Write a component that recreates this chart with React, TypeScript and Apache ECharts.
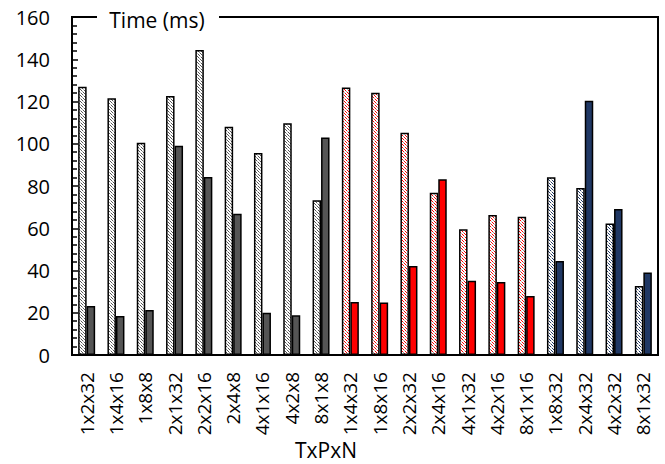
import React, { useEffect, useRef } from "react";
import * as echarts from "echarts";

const categories = [
  "1x2x32", "1x4x16", "1x8x8", "2x1x32", "2x2x16", "2x4x8", "4x1x16", "4x2x8", "8x1x8",
  "1x4x32", "1x8x16", "2x2x32", "2x4x16", "4x1x32", "4x2x16", "8x1x16",
  "1x8x32", "2x4x32", "4x2x32", "8x1x32",
];
const hatchedValues = [127, 121.5, 100.5, 122.6, 144.4, 108.1, 95.6, 109.7, 73.2, 126.6, 124.2, 105.2, 76.8, 59.5, 66.3, 65.5, 84.1, 79, 62.3, 32.7];
const solidValues = [23.2, 18.5, 21.3, 99.1, 84.3, 66.9, 20, 18.8, 102.9, 25.1, 24.8, 42.1, 83.2, 35.2, 34.6, 27.9, 44.5, 120.4, 69.1, 39];
const groupOf = [0, 0, 0, 0, 0, 0, 0, 0, 0, 1, 1, 1, 1, 1, 1, 1, 2, 2, 2, 2];
const groupColors = ["#555555", "#ff0000", "#203864"];
const hatchColors = ["#555555", "#ff0000", "#203864"];
const yTicks = { min: 0, max: 160, interval: 20 };
const xAxisTitle = "TxPxN";
const yAxisTitle = "Time (ms)";

function makePattern(color: string): HTMLCanvasElement {
  const c = document.createElement("canvas");
  c.width = 6;
  c.height = 6;
  const ctx = c.getContext("2d")!;
  ctx.fillStyle = "#ffffff";
  ctx.fillRect(0, 0, 6, 6);
  for (let i = 0; i < 6; i++) {
    ctx.fillStyle = i % 3 < 2 ? color : "#bbbbbb";
    ctx.fillRect(i, i, 1, 1);
    ctx.fillStyle = i % 3 === 1 ? "#999999" : color;
    ctx.fillRect(i, (i + 3) % 6, 1, 1);
  }
  return c;
}

export default function App() {
  const ref = useRef<HTMLDivElement>(null);
  useEffect(() => {
    if (!ref.current) return;
    const chart = echarts.init(ref.current, null, { renderer: "svg" });
    const patterns = hatchColors.map((c) => ({ image: makePattern(c), repeat: "repeat" }));
    const font = "Open Sans";
    chart.setOption({
      animation: false,
      backgroundColor: "#ffffff",
      grid: {
        left: 72,
        right: 7,
        top: 17,
        bottom: 109,
        outerBoundsMode: "none",
        containLabel: false,
        show: true,
        borderColor: "#000000",
        borderWidth: 2,
        backgroundColor: "transparent",
      },
      xAxis: {
        type: "category",
        data: categories,
        axisLine: { show: true, lineStyle: { color: "#000", width: 2 } },
        axisTick: { show: false },
        axisLabel: {
          rotate: 90,
          interval: 0,
          margin: 17,
          fontFamily: font,
          fontSize: 19,
          color: "#000",
        },
      },
      yAxis: {
        type: "value",
        min: yTicks.min,
        max: yTicks.max,
        interval: yTicks.interval,
        axisLine: { show: true, lineStyle: { color: "#000", width: 2 } },
        axisTick: { show: true, inside: true, length: 6, lineStyle: { color: "#000", width: 1.5 } },
        minorTick: { show: true, splitNumber: 5, length: 5, lineStyle: { color: "#000", width: 1.5 } },
        splitLine: { show: false },
        axisLabel: { margin: 22, fontFamily: font, fontSize: 20, color: "#000" },
      },
      graphic: [
        {
          type: "rect",
          shape: { x: 97, y: 8, width: 122, height: 20 },
          style: { fill: "#ffffff" },
          z: 100,
        },
        {
          type: "text",
          x: 157,
          y: 20,
          style: {
            text: yAxisTitle,
            fontFamily: font,
            fontSize: 21,
            fill: "#000",
            align: "center",
            verticalAlign: "middle",
          },
          z: 101,
        },
        {
          type: "text",
          x: 326,
          y: 450,
          style: {
            text: xAxisTitle,
            fontFamily: font,
            fontSize: 21,
            lineHeight: 21,
            fill: "#000",
            align: "center",
            verticalAlign: "middle",
          },
          z: 101,
        },
      ],
      series: [
        {
          type: "bar",
          barWidth: 8.5,
          barGap: "0%",
          data: hatchedValues.map((v, i) => ({
            value: v,
            itemStyle: { color: patterns[groupOf[i]], borderColor: "#000", borderWidth: 1.5 },
          })),
        },
        {
          type: "bar",
          barWidth: 8.5,
          barGap: "0%",
          data: solidValues.map((v, i) => ({
            value: v,
            itemStyle: { color: groupColors[groupOf[i]], borderColor: "#000", borderWidth: 1.5 },
          })),
        },
      ],
    });
    return () => chart.dispose();
  }, []);
  return <div ref={ref} style={{ width: 665, height: 464, position: "absolute", left: 0, top: 0 }} />;
}
